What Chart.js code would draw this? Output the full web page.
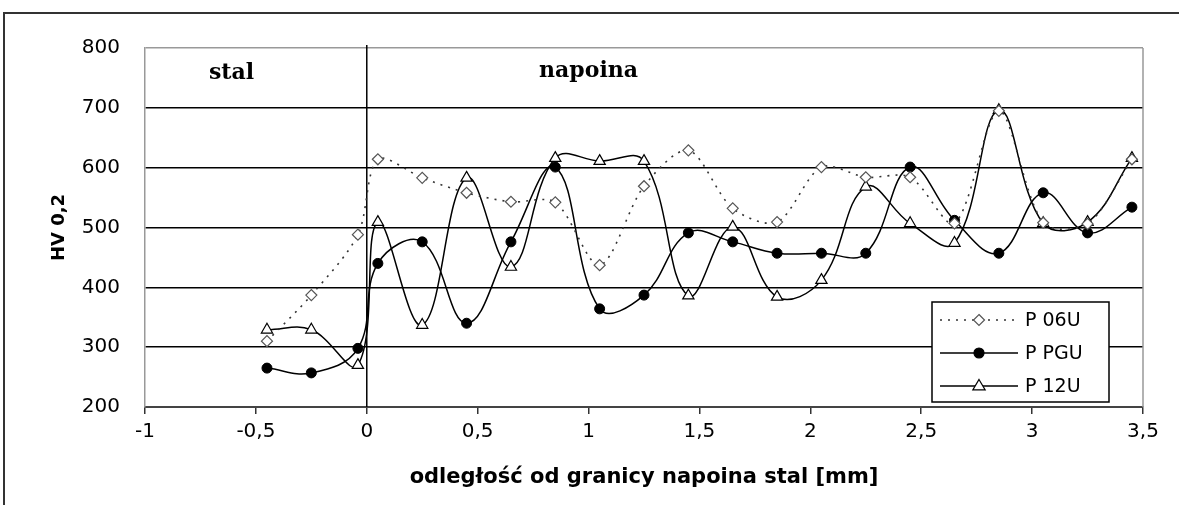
<!DOCTYPE html>
<html>
<head>
<meta charset="utf-8">
<script src="https://cdn.jsdelivr.net/npm/chart.js"></script>
<style>
  body { margin: 0; background: #fff; overflow: hidden; }
  #frame { position: absolute; left: 3px; top: 12px; width: 1200px; height: 520px;
           border-left: 2px solid #333; border-top: 2px solid #333; }
  #wrap { position: absolute; left: 0; top: 0; width: 1179px; height: 505px; }
</style>
</head>
<body>
<div id="frame"></div>
<div id="wrap"><canvas id="hvChart"></canvas></div>
<script>
// distance from the steel / weld boundary [mm]
let xValues = [-0.45, -0.25, -0.04, 0.05, 0.25, 0.45, 0.65, 0.85, 1.05, 1.25, 1.45,
               1.65, 1.85, 2.05, 2.25, 2.45, 2.65, 2.85, 3.05, 3.25, 3.45];
let p06u = [310, 387, 488, 614, 583, 558, 543, 542, 437, 569, 629,
            532, 509, 601, 584, 584, 507, 695, 508, 506, 614];
let ppgu = [265, 257, 298, 440, 476, 340, 476, 601, 364, 387, 491,
            476, 457, 457, 457, 601, 512, 457, 558, 491, 534];
let p12u = [329, 329, 270, 509, 337, 583, 434, 616, 611, 611, 386,
            501, 384, 412, 568, 507, 474, 696, 507, 509, 616];
let seriesNames = ["P 06U", "P PGU", "P 12U"];
let yTicks = [200, 300, 400, 500, 600, 700, 800];
let xTicks = [-1, -0.5, 0, 0.5, 1, 1.5, 2, 2.5, 3, 3.5];

const pts = (ys) => xValues.map((x, i) => ({ x: x, y: ys[i] }));

function drawMarker(ctx, style, x, y, r, fill, stroke) {
  ctx.save();
  ctx.setLineDash([]);
  ctx.lineWidth = 1.2;
  ctx.beginPath();
  if (style === "circle") {
    ctx.arc(x, y, r, 0, Math.PI * 2);
  } else if (style === "rectRot") {
    ctx.moveTo(x, y - r); ctx.lineTo(x + r, y); ctx.lineTo(x, y + r); ctx.lineTo(x - r, y);
    ctx.closePath();
  } else {
    ctx.moveTo(x, y - r); ctx.lineTo(x + r * 0.95, y + r * 0.6); ctx.lineTo(x - r * 0.95, y + r * 0.6);
    ctx.closePath();
  }
  ctx.fillStyle = fill; ctx.fill();
  ctx.strokeStyle = stroke; ctx.stroke();
  ctx.restore();
}

const extras = {
  id: "extras",
  beforeDatasetsDraw(chart) {
    const { ctx, chartArea: ca, scales } = chart;
    ctx.save();
    // right edge of plot box
    ctx.strokeStyle = "#999"; ctx.lineWidth = 1.5;
    ctx.beginPath(); ctx.moveTo(ca.right, ca.top); ctx.lineTo(ca.right, ca.bottom); ctx.stroke();
    // boundary line at 0
    const x0 = scales.x.getPixelForValue(0);
    ctx.strokeStyle = "#000"; ctx.lineWidth = 1.5;
    ctx.beginPath(); ctx.moveTo(x0, ca.top - 3); ctx.lineTo(x0, ca.bottom); ctx.stroke();
    // region labels
    ctx.fillStyle = "#000";
    ctx.font = "bold 22px 'DejaVu Serif'";
    ctx.textAlign = "center"; ctx.textBaseline = "middle";
    ctx.fillText("stal", scales.x.getPixelForValue(-0.61), scales.y.getPixelForValue(758));
    ctx.fillText("napoina", scales.x.getPixelForValue(1.0), scales.y.getPixelForValue(761));
    ctx.restore();
  },
  afterDatasetsDraw(chart) {
    const { ctx, chartArea: ca } = chart;
    const bx = ca.right - 211, by = ca.bottom - 105, bw = 177, bh = 100;
    ctx.save();
    ctx.fillStyle = "#fff"; ctx.fillRect(bx, by, bw, bh);
    ctx.strokeStyle = "#000"; ctx.lineWidth = 1.5; ctx.strokeRect(bx, by, bw, bh);
    chart.data.datasets.forEach((ds, i) => {
      const y = by + 18 + i * 33;
      ctx.strokeStyle = ds.borderColor; ctx.lineWidth = ds.borderWidth;
      ctx.setLineDash(ds.borderDash || []);
      ctx.beginPath(); ctx.moveTo(bx + 8, y); ctx.lineTo(bx + 86, y); ctx.stroke();
      drawMarker(ctx, ds.pointStyle, bx + 47, y, ds.pointRadius, ds.pointBackgroundColor, ds.pointBorderColor);
      ctx.setLineDash([]);
      ctx.fillStyle = "#000"; ctx.font = "19px 'DejaVu Sans'";
      ctx.textAlign = "left"; ctx.textBaseline = "middle";
      ctx.fillText(ds.label, bx + 93, y + 1);
    });
    ctx.restore();
  }
};

new Chart("hvChart", {
  type: "line",
  data: {
    datasets: [
      {
        label: seriesNames[0], data: pts(p06u),
        borderColor: "#333", borderWidth: 1.6, borderDash: [2, 6], tension: 0.3,
        pointStyle: "rectRot", pointRadius: 5.5,
        pointBackgroundColor: "#fff", pointBorderColor: "#555", pointBorderWidth: 1.2,
      },
      {
        label: seriesNames[1], data: pts(ppgu),
        borderColor: "#000", borderWidth: 1.5, tension: 0.4,
        pointStyle: "circle", pointRadius: 5,
        pointBackgroundColor: "#000", pointBorderColor: "#000", pointBorderWidth: 1,
      },
      {
        label: seriesNames[2], data: pts(p12u),
        borderColor: "#000", borderWidth: 1.5, tension: 0.4,
        pointStyle: "triangle", pointRadius: 6.5,
        pointBackgroundColor: "#fff", pointBorderColor: "#000", pointBorderWidth: 1.2,
      },
    ],
  },
  options: {
    responsive: true,
    maintainAspectRatio: false,
    animation: false,
    layout: { padding: { left: 44, top: 48, right: 36, bottom: 15 } },
    plugins: { legend: { display: false }, tooltip: { enabled: false } },
    scales: {
      x: {
        type: "linear", min: -1, max: 3.5,
        afterBuildTicks: (s) => { s.ticks = xTicks.map((v) => ({ value: v })); },
        afterFit: (s) => { s.height = 83; },
        grid: { drawOnChartArea: false, drawTicks: true, tickLength: 7, color: "#333", lineWidth: 1.5 },
        border: { display: true, color: "#444", width: 2 },
        ticks: {
          padding: 6, color: "#000", font: { family: "DejaVu Sans", size: 20 },
          callback: (v) => String(v).replace(".", ","),
        },
        title: {
          display: true, text: "odległość od granicy napoina stal [mm]", color: "#000",
          font: { family: "DejaVu Sans", size: 21, weight: "bold" }, padding: { top: 0, bottom: 0 },
        },
      },
      y: {
        min: 200, max: 800,
        afterBuildTicks: (s) => { s.ticks = yTicks.map((v) => ({ value: v })); },
        afterFit: (s) => { s.width = 101; },
        grid: {
          drawTicks: false,
          color: (c) => (c.tick.value === 800 ? "#999" : c.tick.value === 200 ? "rgba(0,0,0,0)" : "#000"),
          lineWidth: 1.5,
        },
        border: { display: true, color: "#999", width: 1.5 },
        ticks: { padding: 25, color: "#000", font: { family: "DejaVu Sans", size: 20 } },
        title: {
          display: true, text: "HV 0,2", color: "#000",
          font: { family: "DejaVu Sans", size: 18, weight: "bold" }, padding: { top: 5, bottom: 0 },
        },
      },
    },
  },
  plugins: [extras],
});
</script>
</body>
</html>
